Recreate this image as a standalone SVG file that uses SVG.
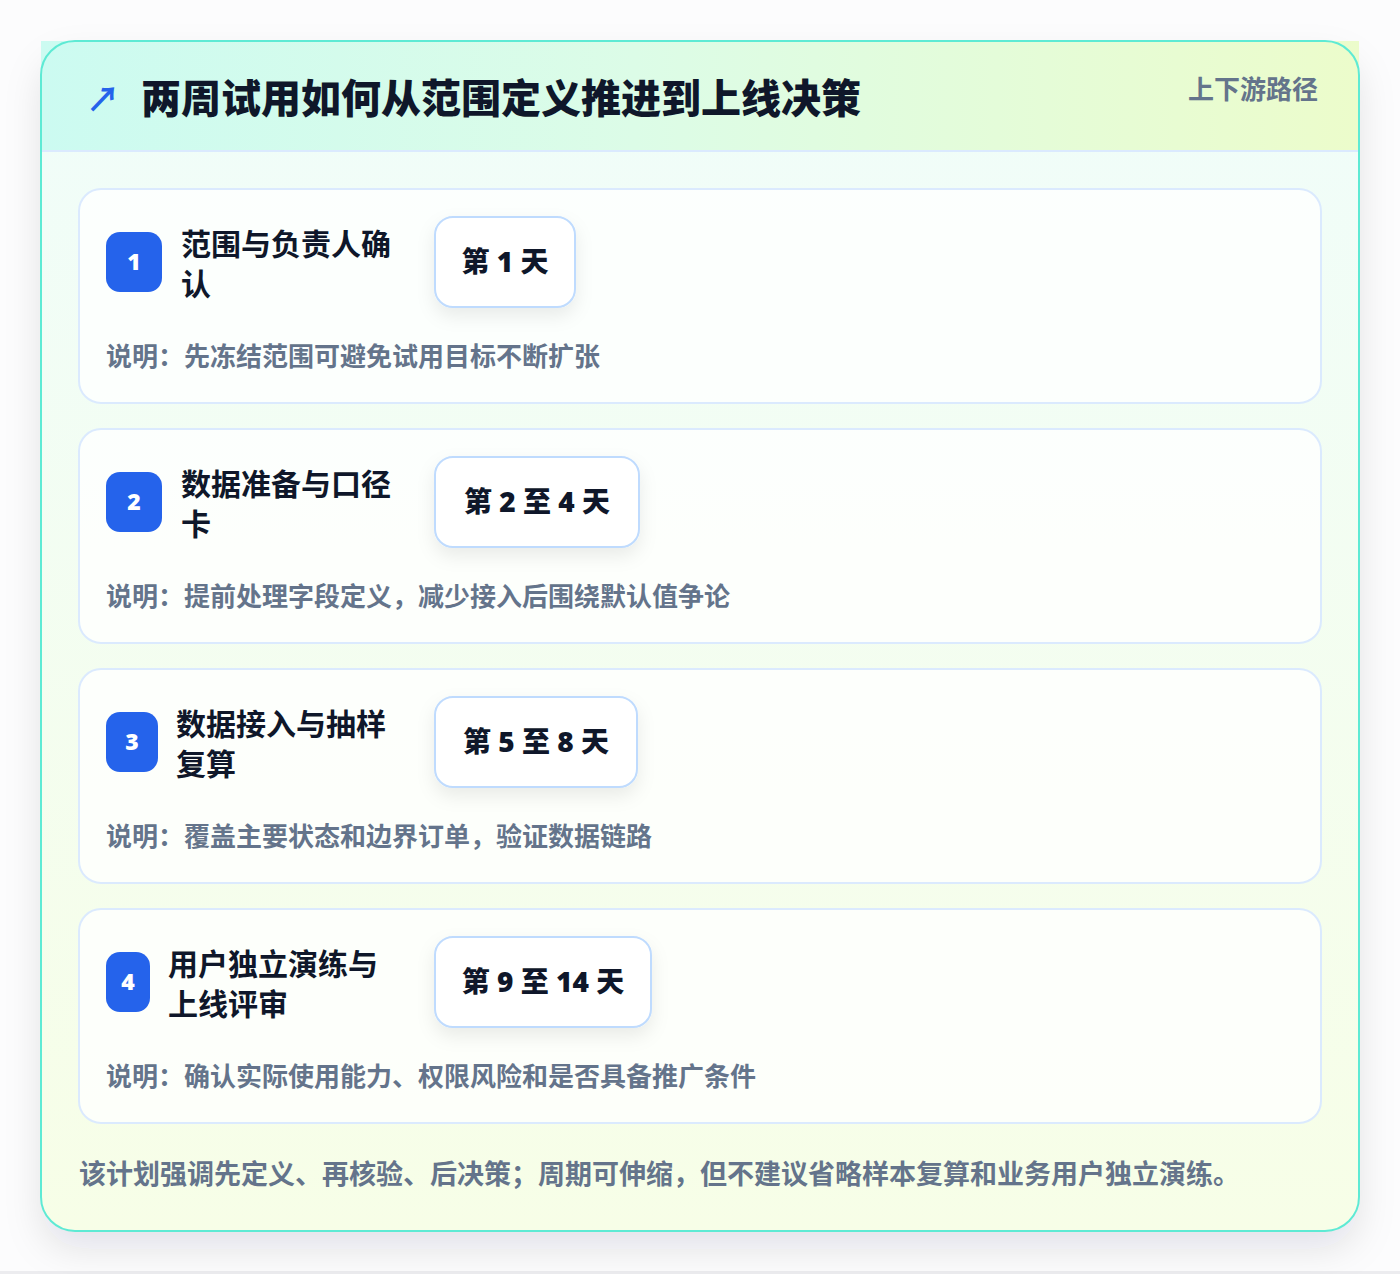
<svg xmlns="http://www.w3.org/2000/svg" width="1400" height="1274" viewBox="0 0 1400 1274">
<defs>
  <linearGradient id="hdr" x1="0" y1="0" x2="1" y2="0">
    <stop offset="0" stop-color="#ccfbf1"/>
    <stop offset="0.45" stop-color="#dcfce7"/>
    <stop offset="1" stop-color="#ecfccb"/>
  </linearGradient>
  <linearGradient id="body" x1="0" y1="0" x2="0" y2="1">
    <stop offset="0" stop-color="#f0fdfa"/>
    <stop offset="1" stop-color="#f7fee7"/>
  </linearGradient>
  <filter id="outerShadow" x="-10%" y="-10%" width="120%" height="125%">
    <feDropShadow dx="0" dy="18" stdDeviation="18" flood-color="#0f172a" flood-opacity="0.10"/>
  </filter>
  <filter id="chipShadow" x="-30%" y="-30%" width="160%" height="170%">
    <feDropShadow dx="0" dy="8" stdDeviation="9" flood-color="#0f172a" flood-opacity="0.08"/>
  </filter>
  <style>
    text { font-family: "Noto Sans CJK SC", "Noto Sans", "Liberation Sans", sans-serif; }
    .card { fill: #ffffff; fill-opacity: 0.78; stroke: #dbeafe; stroke-width: 2; }
    .badge { fill: #2563eb; }
    .num { fill: #ffffff; font-family: "Open Sans", "Noto Sans CJK SC", sans-serif; font-size: 23px; font-weight: 800; text-anchor: middle; }
    .ttl { fill: #0f172a; font-size: 30px; font-weight: 700; }
    .chip { fill: #ffffff; stroke: #bfdbfe; stroke-width: 2; }
    .chipt { fill: #0f172a; font-family: "Open Sans", "Noto Sans CJK SC", sans-serif; font-size: 28px; font-weight: 800; text-anchor: middle; }
    .desc { fill: #64748b; font-size: 26px; font-weight: 700; }
  </style>
</defs>

<rect x="0" y="0" width="1400" height="1274" fill="#fcfcfd"/>
<rect x="0" y="1271" width="1400" height="3" fill="#ececef"/>

<g id="panel">
  <rect x="41" y="41" width="1318" height="1190" rx="34" fill="url(#body)" filter="url(#outerShadow)"/>
  <rect x="41" y="41" width="1318" height="110" fill="url(#hdr)"/>
  <line x1="41" y1="151" x2="1359" y2="151" stroke="#dbeafe" stroke-width="2"/>
  <rect x="41" y="41" width="1318" height="1190" rx="34" fill="none" stroke="#5eead4" stroke-width="2"/>
</g>

<g id="header">
  <text x="86" y="112" font-size="34" font-weight="700" fill="#2563eb">↗</text>
  <text x="141" y="113" font-size="40" font-weight="900" fill="#0f172a">两周试用如何从范围定义推进到上线决策</text>
  <text x="1318" y="99" font-size="26" font-weight="700" fill="#64748b" text-anchor="end">上下游路径</text>
</g>

<g id="connectors"></g>

<g id="step1">
  <rect class="card" x="79" y="189" width="1242" height="214" rx="22"/>
  <rect class="badge" x="106" y="232" width="56" height="60" rx="14"/>
  <text class="num" x="134" y="270">1</text>
  <text class="ttl" x="181" y="255">范围与负责人确</text>
  <text class="ttl" x="181" y="295">认</text>
  <rect class="chip" x="435" y="217" width="140" height="90" rx="18" filter="url(#chipShadow)"/>
  <text class="chipt" x="505" y="272">第 1 天</text>
  <text class="desc" x="106" y="366">说明：先冻结范围可避免试用目标不断扩张</text>
</g>

<g id="step2">
  <rect class="card" x="79" y="429" width="1242" height="214" rx="22"/>
  <rect class="badge" x="106" y="472" width="56" height="60" rx="14"/>
  <text class="num" x="134" y="510">2</text>
  <text class="ttl" x="181" y="495">数据准备与口径</text>
  <text class="ttl" x="181" y="535">卡</text>
  <rect class="chip" x="435" y="457" width="204" height="90" rx="18" filter="url(#chipShadow)"/>
  <text class="chipt" x="537" y="512">第 2 至 4 天</text>
  <text class="desc" x="106" y="606">说明：提前处理字段定义，减少接入后围绕默认值争论</text>
</g>

<g id="step3">
  <rect class="card" x="79" y="669" width="1242" height="214" rx="22"/>
  <rect class="badge" x="106" y="712" width="52" height="60" rx="14"/>
  <text class="num" x="132" y="750">3</text>
  <text class="ttl" x="176" y="735">数据接入与抽样</text>
  <text class="ttl" x="176" y="775">复算</text>
  <rect class="chip" x="435" y="697" width="202" height="90" rx="18" filter="url(#chipShadow)"/>
  <text class="chipt" x="536" y="752">第 5 至 8 天</text>
  <text class="desc" x="106" y="846">说明：覆盖主要状态和边界订单，验证数据链路</text>
</g>

<g id="step4">
  <rect class="card" x="79" y="909" width="1242" height="214" rx="22"/>
  <rect class="badge" x="106" y="952" width="44" height="60" rx="14"/>
  <text class="num" x="128" y="990">4</text>
  <text class="ttl" x="168" y="975">用户独立演练与</text>
  <text class="ttl" x="168" y="1015">上线评审</text>
  <rect class="chip" x="435" y="937" width="216" height="90" rx="18" filter="url(#chipShadow)"/>
  <text class="chipt" x="543" y="992">第 9 至 14 天</text>
  <text class="desc" x="106" y="1086">说明：确认实际使用能力、权限风险和是否具备推广条件</text>
</g>

<g id="footer">
  <text x="79" y="1184" font-size="27" font-weight="700" fill="#64748b">该计划强调先定义、再核验、后决策；周期可伸缩，但不建议省略样本复算和业务用户独立演练。</text>
</g>
</svg>
